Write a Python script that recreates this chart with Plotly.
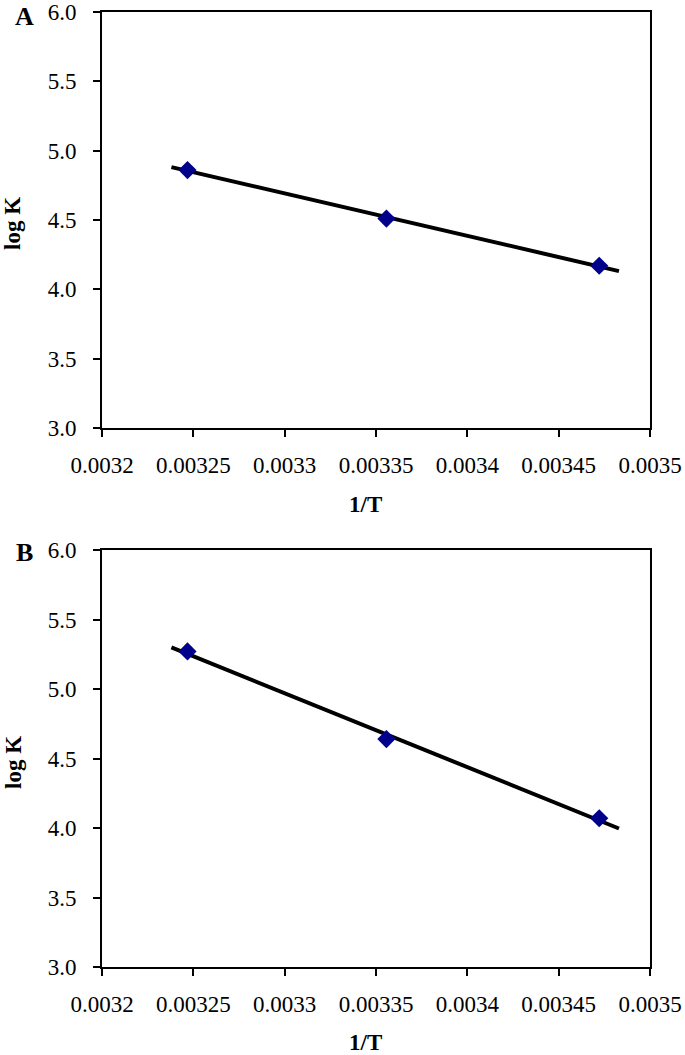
import numpy as np
import plotly.graph_objects as go

# Data
inv_T = [0.0032468, 0.0033557, 0.0034722]
logK_A = [4.86, 4.51, 4.17]
logK_B = [5.27, 4.64, 4.07]
trend_x = [0.003238, 0.003483]
x_tickvals = [0.0032, 0.00325, 0.0033, 0.00335, 0.0034, 0.00345, 0.0035]
x_ticktext = ["0.0032", "0.00325", "0.0033", "0.00335", "0.0034", "0.00345", "0.0035"]
y_tickvals = [3.0, 3.5, 4.0, 4.5, 5.0, 5.5, 6.0]
panel_labels = ["A", "B"]
x_title = "1/T"
y_title = "log K"

W, H = 685, 1055
FONT = "Liberation Serif"

fig = go.Figure()

panels = [
    (logK_A, "x", "y"),
    (logK_B, "x2", "y2"),
]
for vals, xa, ya in panels:
    coef = np.polyfit(inv_T, vals, 1)
    ty = np.polyval(coef, trend_x)
    fig.add_trace(go.Scatter(x=trend_x, y=ty, mode="lines", xaxis=xa, yaxis=ya,
                             line=dict(color="black", width=4), showlegend=False))
    fig.add_trace(go.Scatter(x=inv_T, y=vals, mode="markers", xaxis=xa, yaxis=ya,
                             marker=dict(symbol="diamond", size=14, color="#00008B"),
                             showlegend=False))

def px(xp):
    return xp / W

def py(yp):
    return (H - yp) / H

xdom = [px(102), px(650)]
axis_common = dict(showline=True, linecolor="black", linewidth=2, mirror=True,
                   ticks="outside", ticklen=7, tickwidth=2, tickcolor="black",
                   showgrid=False, zeroline=False, automargin=False,
                   ticklabeloverflow="allow",
                   tickfont=dict(family=FONT, size=23, color="black"))

xcfg = dict(axis_common, range=[0.0032, 0.0035], tickvals=x_tickvals, ticktext=x_ticktext,
            domain=xdom, ticklabelstandoff=8)
ycfg = dict(axis_common, range=[3.0, 6.0], tickvals=y_tickvals, tickformat=".1f",
            ticklabelstandoff=12)

fig.update_layout(
    width=W, height=H,
    margin=dict(l=0, r=0, t=0, b=0),
    paper_bgcolor="white", plot_bgcolor="white",
    xaxis=dict(xcfg, anchor="y"),
    yaxis=dict(ycfg, domain=[py(428), py(12)], anchor="x"),
    xaxis2=dict(xcfg, anchor="y2"),
    yaxis2=dict(ycfg, domain=[py(967), py(550)], anchor="x2"),
)

for lbl, ylbl, yx, yy in zip(panel_labels, [16, 552], [504, 1042], [224, 763]):
    fig.add_annotation(text=f"<b>{lbl}</b>", xref="paper", yref="paper",
                       x=px(25), y=py(ylbl), xanchor="center", yanchor="middle",
                       showarrow=False, font=dict(family=FONT, size=26, color="black"))
    fig.add_annotation(text=f"<b>{x_title}</b>", xref="paper", yref="paper",
                       x=px(366), y=py(yx), xanchor="center", yanchor="middle",
                       showarrow=False, font=dict(family=FONT, size=23, color="black"))
    fig.add_annotation(text=f"<b>{y_title}</b>", xref="paper", yref="paper",
                       x=px(13), y=py(yy), xanchor="center", yanchor="middle",
                       textangle=-90,
                       showarrow=False, font=dict(family=FONT, size=23, color="black"))

fig.write_html("out.html", config={"displayModeBar": False},
               post_script="document.body.style.margin='0';")
